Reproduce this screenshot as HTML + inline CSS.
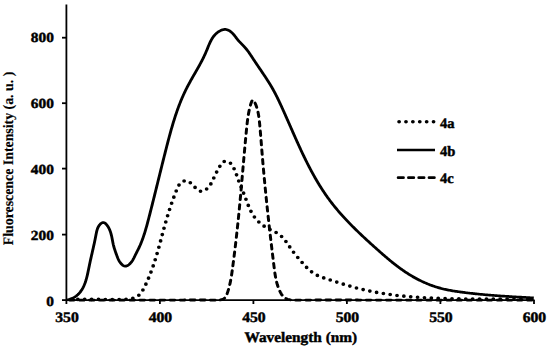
<!DOCTYPE html>
<html><head><meta charset="utf-8"><style>
html,body{margin:0;padding:0;background:#fff;width:550px;height:347px;overflow:hidden}
svg{display:block}
</style></head><body>
<svg width="550" height="347" viewBox="0 0 550 347">
<rect width="550" height="347" fill="#fff"/>
<g stroke="#000" stroke-width="1.8" fill="none">
<path d="M66.4 4.5 V300.1 H534.5"/>
<path d="M62 37.7 H66.4"/>
<path d="M62 103.2 H66.4"/>
<path d="M62 168.6 H66.4"/>
<path d="M62 234.6 H66.4"/>
<path d="M62 300.1 H66.4"/>
<path d="M66.4 300.1 V304"/>
<path d="M159.9 300.1 V304"/>
<path d="M253.4 300.1 V304"/>
<path d="M346.9 300.1 V304"/>
<path d="M440.4 300.1 V304"/>
<path d="M534.0 300.1 V304"/>
</g>
<g transform="scale(1.06 1)" fill="none" stroke="#000">
<path d="M62.63 300.10 L63.63 300.10 L64.64 300.10 L65.64 300.10 L66.64 300.10 L67.65 300.10 L68.65 300.10 L69.65 300.10 L70.65 300.10 L71.66 300.09 L72.66 300.09 L73.66 300.09 L74.66 300.09 L75.67 300.09 L76.67 300.09 L77.67 300.09 L78.67 300.09 L79.67 300.09 L80.68 300.09 L81.68 300.09 L82.68 300.09 L83.68 300.09 L84.68 300.09 L85.68 300.09 L86.68 300.09 L87.68 300.08 L88.69 300.08 L89.69 300.08 L90.69 300.08 L91.69 300.08 L92.69 300.08 L93.69 300.08 L94.69 300.08 L95.69 300.08 L96.69 300.08 L97.69 300.08 L98.69 300.08 L99.69 300.08 L100.69 300.07 L101.69 300.07 L102.69 300.07 L103.69 300.07 L104.69 300.07 L105.69 300.07 L106.69 300.07 L107.69 300.07 L108.69 300.07 L109.69 300.07 L110.69 300.07 L111.69 300.07 L112.69 300.06 L113.70 300.06 L114.70 300.06 L115.70 300.06 L116.70 300.06 L117.70 300.06 L118.70 300.06 L119.70 300.06 L120.70 300.06 L121.70 300.06 L122.70 300.06 L123.70 300.06 L124.70 300.06 L125.70 300.05 L126.70 300.05 L127.70 300.05 L128.71 300.05 L129.71 300.05 L130.71 300.05 L131.71 300.05 L132.71 300.05 L133.71 300.05 L134.71 300.05 L135.72 300.05 L136.72 300.05 L137.72 300.05 L138.72 300.05 L139.72 300.05 L140.73 300.05 L141.73 300.05 L142.73 300.04 L143.73 300.04 L144.74 300.04 L145.74 300.04 L146.74 300.04 L147.75 300.04 L148.75 300.04 L149.75 300.04 L150.76 300.04 L151.76 300.04 L152.77 300.04 L153.77 300.04 L154.77 300.04 L155.78 300.04 L156.78 300.04 L157.79 300.04 L158.79 300.04 L159.80 300.04 L160.80 300.04 L161.80 300.04 L162.81 300.04 L163.81 300.04 L164.81 300.04 L165.81 300.04 L166.82 300.04 L167.82 300.03 L168.82 300.03 L169.82 300.03 L170.81 300.03 L171.81 300.03 L172.81 300.03 L173.81 300.02 L174.80 300.02 L175.79 300.02 L176.79 300.02 L177.78 300.01 L178.77 300.01 L179.76 300.00 L180.75 300.00 L181.74 300.00 L182.73 299.99 L183.72 299.99 L184.71 299.99 L185.71 299.99 L186.70 299.99 L187.70 299.99 L188.70 299.99 L189.70 299.99 L190.70 300.00 L191.70 300.00 L192.71 300.01 L193.72 300.02 L194.74 300.03 L195.76 300.05 L196.78 300.06 L197.81 300.08 L198.85 300.10 L199.88 300.12 L200.93 300.15 L201.98 300.17 L203.03 300.20 L204.07 300.21 L205.11 300.20 L206.12 300.15 L207.10 300.06 L208.05 299.91 L208.96 299.70 L209.81 299.41 L210.61 299.04 L211.35 298.56 L212.01 297.98 L212.59 297.28 L213.09 296.47 L213.54 295.58 L213.93 294.62 L214.28 293.62 L214.61 292.62 L214.93 291.61 L215.23 290.60 L215.52 289.60 L215.79 288.60 L216.05 287.60 L216.29 286.60 L216.53 285.60 L216.75 284.61 L216.97 283.61 L217.17 282.62 L217.37 281.63 L217.55 280.64 L217.73 279.65 L217.90 278.66 L218.06 277.68 L218.22 276.69 L218.37 275.70 L218.51 274.72 L218.65 273.73 L218.79 272.75 L218.92 271.76 L219.05 270.78 L219.18 269.79 L219.30 268.80 L219.43 267.82 L219.55 266.83 L219.68 265.85 L219.80 264.86 L219.92 263.87 L220.04 262.88 L220.17 261.90 L220.29 260.91 L220.41 259.92 L220.52 258.93 L220.64 257.94 L220.76 256.95 L220.88 255.96 L220.99 254.97 L221.11 253.98 L221.23 252.99 L221.34 251.99 L221.45 251.00 L221.57 250.01 L221.68 249.02 L221.79 248.03 L221.91 247.03 L222.02 246.04 L222.13 245.05 L222.24 244.05 L222.35 243.06 L222.46 242.06 L222.56 241.07 L222.67 240.07 L222.78 239.08 L222.89 238.08 L222.99 237.09 L223.10 236.09 L223.20 235.10 L223.31 234.10 L223.41 233.11 L223.51 232.11 L223.62 231.11 L223.72 230.12 L223.82 229.12 L223.92 228.12 L224.02 227.12 L224.12 226.13 L224.22 225.13 L224.32 224.13 L224.42 223.13 L224.52 222.14 L224.62 221.14 L224.71 220.14 L224.81 219.14 L224.91 218.14 L225.00 217.15 L225.10 216.15 L225.19 215.15 L225.29 214.15 L225.38 213.15 L225.47 212.15 L225.57 211.15 L225.66 210.16 L225.75 209.16 L225.84 208.16 L225.93 207.16 L226.02 206.16 L226.11 205.16 L226.20 204.16 L226.29 203.16 L226.38 202.17 L226.47 201.17 L226.56 200.17 L226.65 199.17 L226.73 198.17 L226.82 197.17 L226.91 196.17 L226.99 195.17 L227.08 194.17 L227.16 193.18 L227.25 192.18 L227.33 191.18 L227.42 190.18 L227.50 189.18 L227.59 188.18 L227.67 187.18 L227.75 186.19 L227.84 185.19 L227.92 184.19 L228.00 183.19 L228.08 182.19 L228.17 181.20 L228.25 180.20 L228.33 179.20 L228.41 178.20 L228.50 177.20 L228.58 176.21 L228.66 175.21 L228.74 174.21 L228.82 173.21 L228.90 172.21 L228.99 171.22 L229.07 170.22 L229.15 169.22 L229.23 168.22 L229.31 167.23 L229.39 166.23 L229.47 165.23 L229.56 164.24 L229.64 163.24 L229.72 162.24 L229.80 161.25 L229.88 160.25 L229.97 159.25 L230.05 158.26 L230.13 157.26 L230.21 156.26 L230.30 155.27 L230.38 154.27 L230.46 153.27 L230.55 152.28 L230.63 151.28 L230.72 150.29 L230.80 149.29 L230.88 148.29 L230.97 147.30 L231.05 146.30 L231.14 145.31 L231.23 144.31 L231.31 143.32 L231.40 142.32 L231.49 141.33 L231.57 140.33 L231.66 139.34 L231.75 138.34 L231.84 137.35 L231.93 136.35 L232.02 135.36 L232.11 134.37 L232.20 133.37 L232.29 132.38 L232.38 131.38 L232.48 130.39 L232.57 129.40 L232.66 128.40 L232.76 127.41 L232.86 126.42 L232.95 125.42 L233.06 124.43 L233.16 123.44 L233.27 122.45 L233.38 121.45 L233.50 120.46 L233.62 119.47 L233.75 118.47 L233.88 117.48 L234.02 116.49 L234.17 115.49 L234.32 114.50 L234.49 113.51 L234.66 112.51 L234.84 111.52 L235.04 110.53 L235.24 109.53 L235.46 108.52 L235.70 107.48 L235.96 106.42 L236.25 105.32 L236.56 104.17 L236.91 103.01 L237.28 101.94 L237.67 101.03 L238.09 100.38 L238.52 100.08 L238.97 100.20 L239.42 100.71 L239.86 101.48 L240.29 102.35 L240.70 103.25 L241.07 104.15 L241.43 105.07 L241.76 106.00 L242.07 106.94 L242.36 107.88 L242.62 108.84 L242.87 109.80 L243.10 110.77 L243.32 111.75 L243.52 112.73 L243.70 113.72 L243.87 114.71 L244.03 115.71 L244.17 116.71 L244.31 117.72 L244.43 118.73 L244.55 119.74 L244.66 120.76 L244.76 121.77 L244.86 122.79 L244.95 123.81 L245.04 124.82 L245.12 125.84 L245.21 126.85 L245.29 127.86 L245.38 128.87 L245.46 129.88 L245.54 130.89 L245.62 131.90 L245.70 132.90 L245.78 133.91 L245.86 134.91 L245.94 135.92 L246.01 136.92 L246.09 137.92 L246.17 138.92 L246.24 139.92 L246.32 140.91 L246.40 141.91 L246.47 142.91 L246.55 143.90 L246.62 144.90 L246.70 145.89 L246.77 146.89 L246.85 147.88 L246.92 148.88 L247.00 149.87 L247.07 150.86 L247.15 151.86 L247.23 152.85 L247.30 153.84 L247.38 154.84 L247.46 155.83 L247.54 156.82 L247.61 157.82 L247.69 158.81 L247.77 159.81 L247.85 160.80 L247.93 161.79 L248.01 162.79 L248.09 163.78 L248.18 164.78 L248.26 165.77 L248.34 166.77 L248.42 167.76 L248.51 168.76 L248.59 169.75 L248.67 170.75 L248.76 171.74 L248.84 172.74 L248.93 173.74 L249.02 174.73 L249.10 175.73 L249.19 176.72 L249.28 177.72 L249.36 178.71 L249.45 179.71 L249.54 180.71 L249.63 181.70 L249.72 182.70 L249.81 183.70 L249.90 184.69 L249.99 185.69 L250.08 186.68 L250.17 187.68 L250.26 188.68 L250.36 189.67 L250.45 190.67 L250.54 191.67 L250.64 192.66 L250.73 193.66 L250.82 194.66 L250.92 195.65 L251.01 196.65 L251.11 197.65 L251.21 198.65 L251.30 199.64 L251.40 200.64 L251.49 201.64 L251.59 202.63 L251.69 203.63 L251.79 204.63 L251.89 205.62 L251.98 206.62 L252.08 207.62 L252.18 208.62 L252.28 209.61 L252.38 210.61 L252.48 211.61 L252.58 212.60 L252.69 213.60 L252.79 214.60 L252.89 215.60 L252.99 216.59 L253.09 217.59 L253.20 218.59 L253.30 219.58 L253.40 220.58 L253.51 221.58 L253.61 222.57 L253.72 223.57 L253.82 224.57 L253.93 225.56 L254.03 226.56 L254.14 227.56 L254.24 228.55 L254.35 229.55 L254.46 230.55 L254.56 231.54 L254.67 232.54 L254.78 233.53 L254.89 234.53 L255.00 235.53 L255.11 236.52 L255.21 237.52 L255.32 238.52 L255.43 239.51 L255.54 240.51 L255.65 241.50 L255.76 242.50 L255.87 243.49 L255.98 244.49 L256.10 245.48 L256.21 246.48 L256.32 247.47 L256.43 248.47 L256.54 249.46 L256.66 250.46 L256.77 251.45 L256.88 252.45 L257.00 253.44 L257.11 254.44 L257.22 255.43 L257.34 256.42 L257.45 257.42 L257.57 258.41 L257.68 259.41 L257.80 260.40 L257.91 261.39 L258.03 262.39 L258.14 263.38 L258.26 264.37 L258.37 265.37 L258.49 266.36 L258.61 267.35 L258.73 268.34 L258.84 269.33 L258.97 270.33 L259.09 271.32 L259.22 272.31 L259.36 273.30 L259.50 274.28 L259.65 275.27 L259.80 276.26 L259.97 277.24 L260.15 278.22 L260.34 279.20 L260.54 280.18 L260.75 281.15 L260.98 282.13 L261.22 283.10 L261.48 284.07 L261.75 285.03 L262.05 286.00 L262.36 286.96 L262.69 287.91 L263.04 288.87 L263.42 289.82 L263.81 290.76 L264.24 291.71 L264.68 292.64 L265.16 293.56 L265.67 294.44 L266.22 295.29 L266.81 296.08 L267.45 296.81 L268.14 297.46 L268.89 298.03 L269.68 298.51 L270.53 298.92 L271.42 299.25 L272.35 299.52 L273.32 299.73 L274.31 299.88 L275.32 300.00 L276.35 300.07 L277.40 300.11 L278.45 300.13 L279.51 300.13 L280.56 300.12 L281.61 300.10 L282.65 300.09 L283.67 300.07 L284.69 300.06 L285.69 300.05 L286.69 300.05 L287.69 300.04 L288.68 300.04 L289.67 300.03 L290.66 300.03 L291.65 300.03 L292.64 300.03 L293.63 300.02 L294.62 300.02 L295.62 300.02 L296.61 300.02 L297.60 300.01 L298.60 300.01 L299.59 300.01 L300.59 300.01 L301.58 300.01 L302.58 300.01 L303.58 300.01 L304.57 300.01 L305.57 300.01 L306.57 300.01 L307.57 300.01 L308.57 300.00 L309.57 300.00 L310.57 300.00 L311.57 300.00 L312.57 300.01 L313.57 300.01 L314.57 300.01 L315.57 300.01 L316.57 300.01 L317.57 300.01 L318.57 300.01 L319.57 300.01 L320.58 300.01 L321.58 300.01 L322.58 300.01 L323.58 300.01 L324.58 300.01 L325.59 300.01 L326.59 300.01 L327.59 300.02 L328.59 300.02 L329.60 300.02 L330.60 300.02 L331.60 300.02 L332.60 300.02 L333.61 300.02 L334.61 300.02 L335.61 300.02 L336.61 300.02 L337.62 300.02 L338.62 300.03 L339.62 300.03 L340.62 300.03 L341.63 300.03 L342.63 300.03 L343.63 300.03 L344.63 300.03 L345.63 300.03 L346.64 300.03 L347.64 300.03 L348.64 300.03 L349.64 300.03 L350.64 300.03 L351.65 300.03 L352.65 300.04 L353.65 300.04 L354.65 300.04 L355.65 300.04 L356.66 300.04 L357.66 300.04 L358.66 300.04 L359.66 300.04 L360.66 300.04 L361.66 300.04 L362.67 300.04 L363.67 300.04 L364.67 300.04 L365.67 300.04 L366.67 300.04 L367.67 300.04 L368.67 300.05 L369.68 300.05 L370.68 300.05 L371.68 300.05 L372.68 300.05 L373.68 300.05 L374.68 300.05 L375.68 300.05 L376.69 300.05 L377.69 300.05 L378.69 300.05 L379.69 300.05 L380.69 300.05 L381.69 300.05 L382.69 300.05 L383.69 300.05 L384.70 300.05 L385.70 300.05 L386.70 300.05 L387.70 300.05 L388.70 300.05 L389.70 300.05 L390.70 300.05 L391.70 300.06 L392.70 300.06 L393.71 300.06 L394.71 300.06 L395.71 300.06 L396.71 300.06 L397.71 300.06 L398.71 300.06 L399.71 300.06 L400.71 300.06 L401.71 300.06 L402.71 300.06 L403.72 300.06 L404.72 300.06 L405.72 300.06 L406.72 300.06 L407.72 300.06 L408.72 300.06 L409.72 300.06 L410.72 300.06 L411.72 300.06 L412.72 300.06 L413.72 300.06 L414.73 300.06 L415.73 300.06 L416.73 300.06 L417.73 300.06 L418.73 300.06 L419.73 300.06 L420.73 300.06 L421.73 300.07 L422.73 300.07 L423.73 300.07 L424.73 300.07 L425.74 300.07 L426.74 300.07 L427.74 300.07 L428.74 300.07 L429.74 300.07 L430.74 300.07 L431.74 300.07 L432.74 300.07 L433.74 300.07 L434.74 300.07 L435.74 300.07 L436.75 300.07 L437.75 300.07 L438.75 300.07 L439.75 300.07 L440.75 300.07 L441.75 300.07 L442.75 300.07 L443.75 300.07 L444.75 300.07 L445.75 300.07 L446.76 300.07 L447.76 300.07 L448.76 300.07 L449.76 300.07 L450.76 300.07 L451.76 300.08 L452.76 300.08 L453.76 300.08 L454.76 300.08 L455.76 300.08 L456.77 300.08 L457.77 300.08 L458.77 300.08 L459.77 300.08 L460.77 300.08 L461.77 300.08 L462.77 300.08 L463.77 300.08 L464.78 300.08 L465.78 300.08 L466.78 300.08 L467.78 300.08 L468.78 300.08 L469.78 300.08 L470.78 300.08 L471.79 300.08 L472.79 300.08 L473.79 300.08 L474.79 300.09 L475.79 300.09 L476.79 300.09 L477.79 300.09 L478.80 300.09 L479.80 300.09 L480.80 300.09 L481.80 300.09 L482.80 300.09 L483.80 300.09 L484.81 300.09 L485.81 300.09 L486.81 300.09 L487.81 300.09 L488.81 300.09 L489.81 300.09 L490.82 300.10 L491.82 300.10 L492.82 300.10 L493.82 300.10 L494.82 300.10 L495.83 300.10 L496.83 300.10 L497.83 300.10 L498.83 300.10 L499.83 300.10 L500.84 300.10 L501.84 300.10 L502.84 300.10" stroke-width="2.8" stroke-linecap="round" stroke-dasharray="4.5 5.0" stroke-dashoffset="6.71"/>
<path d="M62.53 299.53 L63.58 299.51 L64.63 299.50 L65.66 299.49 L66.70 299.48 L67.72 299.47 L68.75 299.46 L69.76 299.45 L70.78 299.44 L71.79 299.44 L72.80 299.43 L73.80 299.42 L74.80 299.42 L75.80 299.41 L76.79 299.41 L77.79 299.41 L78.78 299.41 L79.76 299.40 L80.75 299.40 L81.73 299.40 L82.72 299.40 L83.70 299.40 L84.68 299.40 L85.66 299.40 L86.64 299.40 L87.62 299.41 L88.60 299.41 L89.58 299.41 L90.56 299.41 L91.54 299.41 L92.52 299.41 L93.50 299.42 L94.49 299.42 L95.47 299.42 L96.46 299.42 L97.45 299.43 L98.44 299.43 L99.43 299.43 L100.43 299.43 L101.43 299.44 L102.43 299.44 L103.44 299.44 L104.45 299.44 L105.46 299.44 L106.48 299.44 L107.50 299.44 L108.53 299.44 L109.56 299.44 L110.59 299.44 L111.63 299.44 L112.68 299.44 L113.73 299.43 L114.79 299.43 L115.84 299.41 L116.89 299.38 L117.94 299.34 L118.98 299.29 L120.01 299.21 L121.02 299.11 L122.03 298.98 L123.01 298.82 L123.98 298.63 L124.92 298.40 L125.84 298.13 L126.73 297.82 L127.59 297.46 L128.42 297.05 L129.21 296.59 L129.97 296.07 L130.69 295.50 L131.36 294.86 L132.01 294.18 L132.61 293.44 L133.19 292.67 L133.74 291.85 L134.26 291.01 L134.76 290.13 L135.24 289.23 L135.71 288.32 L136.16 287.39 L136.60 286.45 L137.03 285.51 L137.45 284.57 L137.87 283.63 L138.27 282.68 L138.68 281.74 L139.07 280.80 L139.46 279.85 L139.84 278.91 L140.22 277.96 L140.59 277.02 L140.95 276.07 L141.31 275.12 L141.66 274.17 L142.01 273.22 L142.35 272.28 L142.69 271.33 L143.02 270.38 L143.35 269.42 L143.67 268.47 L143.99 267.52 L144.30 266.57 L144.61 265.62 L144.91 264.66 L145.21 263.71 L145.51 262.75 L145.80 261.80 L146.09 260.84 L146.37 259.89 L146.65 258.93 L146.93 257.97 L147.21 257.02 L147.48 256.06 L147.75 255.10 L148.02 254.14 L148.28 253.18 L148.54 252.22 L148.80 251.26 L149.06 250.30 L149.32 249.34 L149.57 248.38 L149.82 247.42 L150.08 246.46 L150.32 245.50 L150.57 244.54 L150.82 243.57 L151.07 242.61 L151.31 241.65 L151.56 240.68 L151.80 239.72 L152.05 238.76 L152.29 237.79 L152.54 236.83 L152.78 235.86 L153.02 234.90 L153.27 233.93 L153.51 232.97 L153.76 232.00 L154.01 231.04 L154.26 230.07 L154.50 229.10 L154.75 228.14 L155.01 227.17 L155.26 226.21 L155.51 225.24 L155.77 224.27 L156.03 223.30 L156.29 222.34 L156.55 221.37 L156.81 220.40 L157.08 219.44 L157.35 218.47 L157.62 217.51 L157.89 216.54 L158.17 215.57 L158.45 214.61 L158.73 213.65 L159.01 212.68 L159.29 211.72 L159.58 210.76 L159.87 209.79 L160.17 208.83 L160.46 207.87 L160.76 206.91 L161.06 205.95 L161.37 205.00 L161.67 204.04 L161.98 203.09 L162.30 202.13 L162.62 201.18 L162.94 200.23 L163.26 199.28 L163.59 198.33 L163.92 197.38 L164.25 196.44 L164.59 195.49 L164.93 194.55 L165.27 193.61 L165.62 192.67 L165.98 191.73 L166.33 190.80 L166.69 189.86 L167.06 188.93 L167.43 188.01 L167.82 187.09 L168.25 186.19 L168.73 185.31 L169.28 184.46 L169.91 183.65 L170.64 182.89 L171.44 182.20 L172.29 181.60 L173.17 181.12 L174.08 180.79 L174.97 180.62 L175.85 180.65 L176.70 180.85 L177.52 181.22 L178.33 181.71 L179.12 182.33 L179.91 183.02 L180.68 183.79 L181.45 184.60 L182.22 185.44 L182.99 186.29 L183.76 187.13 L184.53 187.95 L185.30 188.72 L186.07 189.43 L186.85 190.05 L187.63 190.59 L188.42 191.00 L189.21 191.29 L190.02 191.42 L190.83 191.39 L191.64 191.19 L192.46 190.86 L193.27 190.39 L194.06 189.81 L194.85 189.14 L195.61 188.38 L196.34 187.55 L197.05 186.67 L197.72 185.76 L198.34 184.82 L198.92 183.88 L199.44 182.95 L199.91 182.04 L200.34 181.15 L200.74 180.27 L201.11 179.41 L201.47 178.54 L201.83 177.68 L202.20 176.81 L202.59 175.93 L202.99 175.05 L203.39 174.16 L203.82 173.27 L204.25 172.37 L204.70 171.46 L205.16 170.55 L205.64 169.63 L206.12 168.70 L206.63 167.77 L207.14 166.84 L207.67 165.89 L208.22 164.96 L208.79 164.06 L209.40 163.23 L210.05 162.50 L210.76 161.91 L211.53 161.49 L212.38 161.26 L213.27 161.23 L214.19 161.38 L215.10 161.69 L215.99 162.13 L216.81 162.70 L217.56 163.38 L218.23 164.14 L218.84 164.97 L219.39 165.86 L219.89 166.79 L220.35 167.74 L220.79 168.69 L221.20 169.65 L221.60 170.60 L221.97 171.55 L222.33 172.50 L222.67 173.45 L223.01 174.40 L223.33 175.35 L223.65 176.29 L223.96 177.23 L224.28 178.17 L224.59 179.11 L224.91 180.05 L225.23 180.98 L225.55 181.91 L225.89 182.84 L226.22 183.77 L226.56 184.69 L226.91 185.62 L227.26 186.54 L227.61 187.47 L227.96 188.39 L228.31 189.32 L228.67 190.24 L229.02 191.17 L229.38 192.10 L229.73 193.03 L230.09 193.97 L230.44 194.90 L230.79 195.84 L231.14 196.79 L231.48 197.74 L231.82 198.69 L232.16 199.64 L232.50 200.60 L232.84 201.56 L233.18 202.52 L233.53 203.48 L233.88 204.43 L234.24 205.39 L234.60 206.33 L234.97 207.28 L235.35 208.21 L235.75 209.14 L236.15 210.06 L236.57 210.97 L237.01 211.87 L237.46 212.76 L237.93 213.64 L238.42 214.50 L238.93 215.34 L239.47 216.17 L240.02 216.99 L240.60 217.79 L241.19 218.57 L241.81 219.33 L242.44 220.08 L243.10 220.81 L243.77 221.53 L244.47 222.22 L245.18 222.90 L245.91 223.56 L246.66 224.20 L247.42 224.83 L248.20 225.43 L249.00 226.02 L249.82 226.59 L250.65 227.14 L251.49 227.66 L252.35 228.17 L253.23 228.67 L254.11 229.14 L255.00 229.61 L255.90 230.07 L256.80 230.52 L257.70 230.98 L258.59 231.45 L259.47 231.92 L260.33 232.42 L261.19 232.93 L262.02 233.46 L262.83 234.03 L263.62 234.62 L264.38 235.25 L265.11 235.92 L265.82 236.61 L266.50 237.34 L267.16 238.09 L267.80 238.86 L268.43 239.66 L269.04 240.47 L269.63 241.30 L270.21 242.14 L270.79 242.99 L271.35 243.85 L271.91 244.71 L272.46 245.57 L273.01 246.44 L273.56 247.30 L274.10 248.15 L274.66 249.00 L275.21 249.83 L275.77 250.65 L276.34 251.46 L276.92 252.26 L277.50 253.04 L278.08 253.82 L278.68 254.59 L279.27 255.36 L279.88 256.13 L280.48 256.89 L281.09 257.65 L281.71 258.42 L282.33 259.18 L282.96 259.96 L283.59 260.74 L284.22 261.52 L284.86 262.31 L285.51 263.10 L286.16 263.88 L286.82 264.67 L287.49 265.45 L288.16 266.22 L288.85 266.98 L289.55 267.73 L290.25 268.47 L290.97 269.20 L291.70 269.90 L292.44 270.59 L293.20 271.25 L293.97 271.89 L294.75 272.51 L295.55 273.10 L296.37 273.66 L297.20 274.19 L298.05 274.68 L298.92 275.15 L299.80 275.59 L300.69 276.01 L301.59 276.41 L302.51 276.79 L303.43 277.15 L304.36 277.50 L305.29 277.84 L306.23 278.17 L307.17 278.50 L308.12 278.82 L309.06 279.15 L310.01 279.47 L310.95 279.80 L311.90 280.12 L312.85 280.45 L313.79 280.77 L314.74 281.10 L315.69 281.42 L316.64 281.74 L317.59 282.06 L318.54 282.38 L319.49 282.70 L320.44 283.02 L321.39 283.34 L322.34 283.65 L323.30 283.96 L324.25 284.27 L325.20 284.58 L326.16 284.89 L327.12 285.19 L328.07 285.49 L329.03 285.79 L329.99 286.09 L330.95 286.38 L331.91 286.67 L332.87 286.95 L333.83 287.24 L334.79 287.51 L335.75 287.79 L336.72 288.06 L337.68 288.33 L338.65 288.59 L339.61 288.85 L340.58 289.10 L341.55 289.35 L342.52 289.59 L343.49 289.83 L344.46 290.07 L345.43 290.30 L346.40 290.53 L347.38 290.75 L348.35 290.97 L349.33 291.19 L350.30 291.40 L351.28 291.61 L352.26 291.81 L353.24 292.01 L354.21 292.20 L355.19 292.40 L356.17 292.58 L357.16 292.77 L358.14 292.95 L359.12 293.12 L360.10 293.30 L361.09 293.47 L362.07 293.63 L363.06 293.79 L364.04 293.95 L365.03 294.11 L366.01 294.26 L367.00 294.41 L367.99 294.55 L368.98 294.69 L369.97 294.83 L370.96 294.97 L371.95 295.10 L372.94 295.23 L373.93 295.35 L374.92 295.48 L375.91 295.60 L376.90 295.71 L377.90 295.83 L378.89 295.94 L379.88 296.05 L380.88 296.15 L381.87 296.26 L382.87 296.36 L383.86 296.46 L384.86 296.55 L385.85 296.64 L386.85 296.73 L387.84 296.82 L388.84 296.91 L389.84 296.99 L390.84 297.07 L391.83 297.15 L392.83 297.22 L393.83 297.30 L394.83 297.37 L395.83 297.44 L396.82 297.50 L397.82 297.57 L398.82 297.63 L399.82 297.69 L400.82 297.75 L401.82 297.81 L402.82 297.86 L403.82 297.92 L404.82 297.97 L405.82 298.02 L406.82 298.07 L407.82 298.11 L408.82 298.16 L409.82 298.20 L410.82 298.25 L411.82 298.29 L412.82 298.33 L413.82 298.36 L414.82 298.40 L415.82 298.43 L416.82 298.47 L417.82 298.50 L418.82 298.53 L419.82 298.56 L420.82 298.59 L421.82 298.62 L422.82 298.64 L423.82 298.67 L424.82 298.69 L425.82 298.71 L426.82 298.73 L427.82 298.76 L428.82 298.77 L429.82 298.79 L430.82 298.81 L431.82 298.83 L432.82 298.84 L433.82 298.86 L434.82 298.87 L435.82 298.88 L436.82 298.90 L437.82 298.91 L438.82 298.92 L439.82 298.93 L440.82 298.94 L441.82 298.95 L442.82 298.95 L443.82 298.96 L444.82 298.97 L445.82 298.97 L446.82 298.98 L447.82 298.98 L448.82 298.99 L449.82 298.99 L450.82 299.00 L451.82 299.00 L452.82 299.00 L453.82 299.01 L454.82 299.01 L455.82 299.01 L456.82 299.01 L457.82 299.01 L458.82 299.02 L459.82 299.02 L460.82 299.02 L461.82 299.02 L462.82 299.02 L463.82 299.02 L464.82 299.02 L465.82 299.02 L466.82 299.02 L467.82 299.02 L468.83 299.02 L469.83 299.02 L470.83 299.02 L471.83 299.03 L472.83 299.03 L473.83 299.03 L474.83 299.03 L475.83 299.03 L476.83 299.03 L477.83 299.04 L478.83 299.04 L479.83 299.04 L480.83 299.05 L481.83 299.05 L482.83 299.05 L483.83 299.06 L484.83 299.07 L485.83 299.07 L486.83 299.08 L487.83 299.08 L488.83 299.09 L489.83 299.10 L490.83 299.11 L491.83 299.12 L492.83 299.13 L493.83 299.14 L494.83 299.15 L495.83 299.17 L496.83 299.18 L497.83 299.19 L498.83 299.21 L499.83 299.23 L500.83 299.24 L501.83 299.26 L502.83 299.28" stroke-width="3.6" stroke-linecap="round" stroke-dasharray="0 6.5" stroke-dashoffset="2.12"/>
<path d="M62.53 299.98 L63.65 299.77 L64.73 299.50 L65.77 299.20 L66.76 298.86 L67.71 298.47 L68.63 298.04 L69.50 297.58 L70.34 297.08 L71.14 296.54 L71.90 295.97 L72.63 295.37 L73.33 294.74 L73.99 294.07 L74.62 293.37 L75.23 292.65 L75.80 291.90 L76.35 291.12 L76.86 290.32 L77.36 289.50 L77.82 288.65 L78.27 287.78 L78.69 286.90 L79.09 285.99 L79.47 285.07 L79.83 284.13 L80.17 283.18 L80.49 282.21 L80.80 281.24 L81.09 280.25 L81.37 279.25 L81.64 278.24 L81.89 277.23 L82.13 276.21 L82.36 275.19 L82.59 274.16 L82.81 273.13 L83.02 272.10 L83.22 271.07 L83.42 270.04 L83.62 269.02 L83.81 268.00 L84.01 266.98 L84.20 265.97 L84.39 264.97 L84.59 263.98 L84.79 262.99 L84.99 262.01 L85.18 261.04 L85.38 260.07 L85.59 259.11 L85.79 258.15 L85.99 257.20 L86.19 256.25 L86.39 255.30 L86.60 254.36 L86.80 253.41 L87.00 252.47 L87.21 251.53 L87.41 250.58 L87.61 249.64 L87.81 248.69 L88.01 247.75 L88.21 246.80 L88.41 245.84 L88.61 244.89 L88.81 243.93 L89.01 242.96 L89.20 241.99 L89.39 241.01 L89.59 240.03 L89.78 239.04 L89.97 238.04 L90.15 237.03 L90.34 236.02 L90.52 234.99 L90.70 233.96 L90.90 232.92 L91.11 231.88 L91.34 230.85 L91.62 229.83 L91.93 228.83 L92.30 227.85 L92.74 226.90 L93.24 225.98 L93.82 225.09 L94.48 224.26 L95.21 223.54 L95.97 222.97 L96.76 222.61 L97.54 222.51 L98.31 222.70 L99.06 223.13 L99.78 223.76 L100.46 224.53 L101.09 225.39 L101.68 226.28 L102.21 227.19 L102.69 228.11 L103.13 229.04 L103.52 229.98 L103.88 230.94 L104.20 231.90 L104.49 232.87 L104.76 233.85 L105.00 234.83 L105.22 235.81 L105.43 236.80 L105.62 237.80 L105.80 238.79 L105.98 239.78 L106.16 240.77 L106.34 241.76 L106.52 242.75 L106.72 243.73 L106.92 244.71 L107.15 245.67 L107.39 246.64 L107.64 247.59 L107.91 248.54 L108.19 249.49 L108.49 250.44 L108.79 251.38 L109.10 252.32 L109.42 253.26 L109.74 254.21 L110.07 255.15 L110.39 256.10 L110.73 257.05 L111.09 258.00 L111.48 258.94 L111.90 259.88 L112.37 260.80 L112.89 261.72 L113.47 262.63 L114.11 263.51 L114.82 264.32 L115.57 265.03 L116.37 265.60 L117.20 266.00 L118.06 266.17 L118.93 266.10 L119.81 265.82 L120.68 265.34 L121.51 264.73 L122.30 264.02 L123.04 263.24 L123.70 262.43 L124.31 261.59 L124.86 260.73 L125.37 259.85 L125.84 258.95 L126.29 258.05 L126.72 257.13 L127.14 256.22 L127.56 255.30 L127.98 254.39 L128.41 253.48 L128.84 252.58 L129.27 251.68 L129.70 250.78 L130.13 249.87 L130.55 248.97 L130.97 248.06 L131.37 247.15 L131.77 246.24 L132.16 245.32 L132.53 244.39 L132.90 243.47 L133.26 242.54 L133.61 241.60 L133.95 240.66 L134.28 239.72 L134.61 238.78 L134.93 237.83 L135.24 236.88 L135.55 235.93 L135.85 234.97 L136.14 234.01 L136.43 233.05 L136.71 232.09 L136.99 231.13 L137.26 230.16 L137.53 229.19 L137.79 228.22 L138.05 227.25 L138.31 226.28 L138.56 225.31 L138.81 224.34 L139.06 223.36 L139.30 222.39 L139.55 221.41 L139.79 220.44 L140.03 219.46 L140.27 218.48 L140.51 217.51 L140.74 216.53 L140.98 215.56 L141.22 214.58 L141.45 213.61 L141.69 212.64 L141.92 211.66 L142.16 210.69 L142.39 209.71 L142.62 208.74 L142.86 207.77 L143.09 206.79 L143.32 205.82 L143.55 204.85 L143.78 203.88 L144.01 202.90 L144.24 201.93 L144.47 200.96 L144.70 199.99 L144.93 199.01 L145.16 198.04 L145.39 197.07 L145.62 196.10 L145.84 195.13 L146.07 194.16 L146.30 193.18 L146.53 192.21 L146.75 191.24 L146.98 190.27 L147.21 189.30 L147.43 188.33 L147.66 187.36 L147.88 186.39 L148.11 185.42 L148.34 184.44 L148.56 183.47 L148.79 182.50 L149.01 181.53 L149.24 180.56 L149.47 179.59 L149.69 178.62 L149.92 177.65 L150.14 176.68 L150.37 175.70 L150.60 174.73 L150.82 173.76 L151.05 172.79 L151.28 171.82 L151.50 170.85 L151.73 169.88 L151.96 168.91 L152.18 167.93 L152.41 166.96 L152.64 165.99 L152.87 165.02 L153.09 164.05 L153.32 163.07 L153.55 162.10 L153.78 161.13 L154.01 160.16 L154.24 159.18 L154.47 158.21 L154.70 157.24 L154.93 156.26 L155.16 155.29 L155.40 154.32 L155.63 153.34 L155.86 152.37 L156.09 151.39 L156.33 150.42 L156.56 149.45 L156.80 148.47 L157.03 147.50 L157.27 146.52 L157.50 145.54 L157.74 144.57 L157.98 143.59 L158.22 142.62 L158.46 141.64 L158.70 140.66 L158.94 139.69 L159.19 138.71 L159.43 137.74 L159.68 136.76 L159.92 135.79 L160.17 134.81 L160.42 133.84 L160.68 132.86 L160.93 131.89 L161.19 130.92 L161.44 129.94 L161.70 128.97 L161.97 128.00 L162.23 127.03 L162.50 126.06 L162.77 125.09 L163.04 124.13 L163.31 123.16 L163.59 122.19 L163.87 121.23 L164.15 120.26 L164.43 119.30 L164.72 118.34 L165.01 117.38 L165.30 116.42 L165.60 115.46 L165.90 114.50 L166.20 113.55 L166.51 112.60 L166.82 111.64 L167.14 110.69 L167.45 109.74 L167.78 108.80 L168.10 107.85 L168.43 106.91 L168.76 105.97 L169.10 105.03 L169.44 104.09 L169.79 103.15 L170.14 102.22 L170.49 101.28 L170.85 100.35 L171.21 99.43 L171.58 98.50 L171.95 97.58 L172.33 96.66 L172.71 95.74 L173.10 94.82 L173.49 93.91 L173.89 92.99 L174.29 92.09 L174.70 91.18 L175.11 90.27 L175.53 89.37 L175.96 88.48 L176.39 87.58 L176.82 86.69 L177.26 85.80 L177.71 84.91 L178.16 84.02 L178.61 83.14 L179.07 82.26 L179.53 81.37 L179.99 80.49 L180.46 79.62 L180.93 78.74 L181.40 77.86 L181.87 76.98 L182.35 76.11 L182.82 75.23 L183.30 74.35 L183.78 73.48 L184.25 72.60 L184.73 71.72 L185.20 70.84 L185.68 69.96 L186.15 69.08 L186.62 68.20 L187.09 67.31 L187.56 66.42 L188.02 65.54 L188.49 64.64 L188.94 63.75 L189.40 62.85 L189.85 61.95 L190.30 61.05 L190.74 60.14 L191.17 59.24 L191.61 58.32 L192.03 57.40 L192.45 56.48 L192.86 55.56 L193.27 54.63 L193.67 53.69 L194.06 52.75 L194.45 51.81 L194.83 50.86 L195.20 49.90 L195.56 48.94 L195.93 47.99 L196.29 47.03 L196.66 46.08 L197.03 45.13 L197.41 44.19 L197.80 43.26 L198.20 42.34 L198.62 41.43 L199.05 40.54 L199.50 39.66 L199.97 38.80 L200.46 37.96 L200.98 37.14 L201.53 36.35 L202.11 35.58 L202.72 34.84 L203.36 34.12 L204.05 33.44 L204.77 32.79 L205.53 32.18 L206.34 31.60 L207.19 31.06 L208.09 30.56 L209.02 30.13 L209.99 29.78 L210.98 29.54 L211.97 29.43 L212.97 29.47 L213.95 29.67 L214.91 30.00 L215.83 30.44 L216.70 30.96 L217.51 31.54 L218.26 32.18 L218.98 32.86 L219.66 33.59 L220.30 34.35 L220.93 35.14 L221.53 35.95 L222.13 36.77 L222.72 37.60 L223.31 38.43 L223.92 39.25 L224.54 40.05 L225.18 40.83 L225.84 41.60 L226.52 42.35 L227.20 43.09 L227.89 43.83 L228.57 44.56 L229.25 45.30 L229.92 46.04 L230.57 46.80 L231.20 47.56 L231.82 48.34 L232.42 49.13 L233.01 49.92 L233.59 50.73 L234.16 51.54 L234.72 52.36 L235.27 53.19 L235.81 54.02 L236.34 54.86 L236.88 55.70 L237.40 56.55 L237.93 57.40 L238.45 58.24 L238.98 59.09 L239.50 59.95 L240.03 60.79 L240.57 61.64 L241.10 62.49 L241.64 63.34 L242.18 64.19 L242.72 65.03 L243.26 65.88 L243.80 66.73 L244.34 67.57 L244.89 68.42 L245.43 69.27 L245.98 70.11 L246.52 70.96 L247.06 71.81 L247.60 72.66 L248.15 73.51 L248.68 74.36 L249.22 75.21 L249.76 76.06 L250.29 76.91 L250.82 77.76 L251.35 78.62 L251.87 79.48 L252.39 80.33 L252.91 81.19 L253.43 82.05 L253.93 82.92 L254.44 83.78 L254.94 84.65 L255.43 85.52 L255.92 86.39 L256.40 87.26 L256.88 88.14 L257.35 89.01 L257.81 89.89 L258.27 90.78 L258.73 91.66 L259.17 92.55 L259.61 93.44 L260.05 94.33 L260.48 95.22 L260.91 96.12 L261.33 97.02 L261.75 97.92 L262.17 98.82 L262.58 99.72 L262.99 100.63 L263.39 101.53 L263.79 102.44 L264.19 103.35 L264.59 104.26 L264.99 105.17 L265.38 106.08 L265.78 107.00 L266.17 107.91 L266.56 108.83 L266.95 109.74 L267.34 110.66 L267.73 111.58 L268.11 112.50 L268.50 113.42 L268.89 114.34 L269.27 115.26 L269.66 116.18 L270.05 117.11 L270.43 118.03 L270.81 118.95 L271.20 119.88 L271.58 120.80 L271.97 121.73 L272.35 122.65 L272.73 123.58 L273.12 124.51 L273.50 125.43 L273.88 126.36 L274.27 127.29 L274.65 128.21 L275.04 129.14 L275.42 130.07 L275.81 131.00 L276.19 131.93 L276.58 132.85 L276.96 133.78 L277.35 134.71 L277.74 135.64 L278.13 136.56 L278.51 137.49 L278.90 138.42 L279.29 139.34 L279.68 140.27 L280.08 141.20 L280.47 142.12 L280.86 143.05 L281.26 143.97 L281.66 144.89 L282.05 145.82 L282.45 146.74 L282.85 147.66 L283.25 148.58 L283.65 149.50 L284.06 150.43 L284.46 151.34 L284.87 152.26 L285.28 153.18 L285.69 154.10 L286.10 155.01 L286.52 155.93 L286.93 156.84 L287.35 157.75 L287.77 158.67 L288.19 159.58 L288.61 160.49 L289.04 161.39 L289.46 162.30 L289.89 163.21 L290.33 164.11 L290.76 165.02 L291.20 165.92 L291.63 166.82 L292.08 167.72 L292.52 168.61 L292.96 169.51 L293.41 170.40 L293.86 171.30 L294.32 172.19 L294.78 173.08 L295.23 173.96 L295.70 174.85 L296.16 175.73 L296.63 176.62 L297.10 177.50 L297.57 178.37 L298.05 179.25 L298.53 180.13 L299.02 181.00 L299.50 181.87 L299.99 182.74 L300.49 183.60 L300.98 184.47 L301.48 185.33 L301.99 186.19 L302.49 187.04 L303.00 187.90 L303.52 188.75 L304.04 189.60 L304.56 190.45 L305.08 191.29 L305.61 192.14 L306.15 192.98 L306.68 193.81 L307.23 194.65 L307.77 195.48 L308.32 196.31 L308.88 197.14 L309.43 197.96 L310.00 198.78 L310.56 199.60 L311.13 200.41 L311.71 201.23 L312.29 202.03 L312.87 202.84 L313.46 203.64 L314.06 204.44 L314.65 205.24 L315.25 206.04 L315.86 206.83 L316.47 207.62 L317.08 208.41 L317.70 209.19 L318.32 209.97 L318.94 210.75 L319.57 211.53 L320.20 212.30 L320.84 213.07 L321.48 213.84 L322.12 214.61 L322.76 215.37 L323.41 216.13 L324.06 216.89 L324.72 217.65 L325.38 218.41 L326.04 219.16 L326.70 219.91 L327.37 220.66 L328.04 221.40 L328.71 222.15 L329.38 222.89 L330.06 223.63 L330.74 224.37 L331.42 225.10 L332.11 225.84 L332.79 226.57 L333.48 227.30 L334.18 228.03 L334.87 228.76 L335.56 229.48 L336.26 230.20 L336.96 230.93 L337.66 231.65 L338.37 232.36 L339.07 233.08 L339.78 233.80 L340.49 234.51 L341.20 235.22 L341.91 235.93 L342.62 236.64 L343.34 237.35 L344.05 238.06 L344.77 238.76 L345.49 239.47 L346.21 240.17 L346.93 240.87 L347.65 241.57 L348.37 242.27 L349.09 242.97 L349.82 243.66 L350.54 244.36 L351.27 245.05 L351.99 245.75 L352.72 246.44 L353.45 247.13 L354.17 247.82 L354.90 248.51 L355.63 249.20 L356.36 249.89 L357.08 250.57 L357.81 251.26 L358.54 251.94 L359.27 252.63 L360.00 253.31 L360.74 253.99 L361.47 254.66 L362.21 255.34 L362.94 256.01 L363.68 256.68 L364.42 257.35 L365.16 258.02 L365.90 258.68 L366.65 259.34 L367.40 260.00 L368.15 260.66 L368.90 261.31 L369.65 261.96 L370.41 262.60 L371.17 263.24 L371.93 263.88 L372.70 264.52 L373.46 265.15 L374.23 265.77 L375.01 266.39 L375.79 267.01 L376.57 267.62 L377.35 268.23 L378.14 268.84 L378.93 269.44 L379.73 270.03 L380.53 270.62 L381.33 271.20 L382.14 271.78 L382.96 272.35 L383.77 272.92 L384.60 273.48 L385.42 274.04 L386.25 274.59 L387.09 275.13 L387.93 275.67 L388.78 276.20 L389.63 276.73 L390.49 277.25 L391.35 277.76 L392.22 278.26 L393.09 278.76 L393.97 279.25 L394.86 279.73 L395.75 280.21 L396.64 280.68 L397.54 281.14 L398.44 281.59 L399.35 282.03 L400.26 282.47 L401.18 282.89 L402.10 283.31 L403.02 283.72 L403.95 284.12 L404.88 284.51 L405.81 284.90 L406.75 285.27 L407.69 285.63 L408.63 285.99 L409.58 286.33 L410.53 286.66 L411.48 286.99 L412.43 287.30 L413.39 287.60 L414.35 287.89 L415.31 288.17 L416.27 288.44 L417.23 288.70 L418.19 288.95 L419.16 289.19 L420.13 289.42 L421.10 289.64 L422.07 289.85 L423.04 290.06 L424.01 290.25 L424.99 290.44 L425.97 290.63 L426.94 290.80 L427.92 290.97 L428.90 291.14 L429.88 291.30 L430.86 291.45 L431.85 291.61 L432.83 291.75 L433.81 291.90 L434.80 292.04 L435.78 292.18 L436.77 292.32 L437.76 292.46 L438.75 292.59 L439.74 292.72 L440.73 292.85 L441.72 292.98 L442.71 293.10 L443.70 293.22 L444.69 293.34 L445.68 293.46 L446.68 293.58 L447.67 293.69 L448.66 293.80 L449.66 293.91 L450.65 294.02 L451.65 294.13 L452.65 294.23 L453.64 294.33 L454.64 294.43 L455.64 294.53 L456.63 294.63 L457.63 294.72 L458.63 294.82 L459.63 294.91 L460.63 295.00 L461.63 295.09 L462.63 295.18 L463.63 295.26 L464.63 295.35 L465.63 295.43 L466.63 295.51 L467.63 295.59 L468.63 295.67 L469.63 295.75 L470.63 295.83 L471.63 295.90 L472.63 295.98 L473.63 296.05 L474.63 296.12 L475.63 296.19 L476.64 296.26 L477.64 296.33 L478.64 296.40 L479.64 296.47 L480.64 296.53 L481.64 296.60 L482.64 296.67 L483.64 296.73 L484.64 296.79 L485.64 296.86 L486.64 296.92 L487.64 296.98 L488.63 297.04 L489.63 297.10 L490.63 297.16 L491.63 297.22 L492.63 297.28 L493.62 297.34 L494.62 297.40 L495.62 297.45 L496.61 297.51 L497.61 297.57 L498.60 297.63 L499.60 297.68 L500.59 297.74 L501.58 297.80 L502.58 297.85 L503.57 297.91" stroke-width="2.7" stroke-linejoin="round"/>
<path d="M376.51 121.8 H409.91" stroke-width="3.6" stroke-linecap="round" stroke-dasharray="0 6.5"/>
<path d="M374.53 150 H410.38" stroke-width="2.7"/>
<path d="M375.66 177.7 H411.32" stroke-width="2.8" stroke-linecap="round" stroke-dasharray="4.9 4.82"/>
</g>
<g font-family="Liberation Serif" font-weight="bold" font-size="14.5" fill="#000" stroke="#000" stroke-width="0.45" text-rendering="geometricPrecision">
<text x="440" y="128">4a</text>
<text x="440" y="155.6">4b</text>
<text x="440" y="183.3">4c</text>
<text transform="translate(53.9 42.3) scale(1.06 0.957)" text-anchor="end">800</text>
<text transform="translate(53.9 108.4) scale(1.06 0.957)" text-anchor="end">600</text>
<text transform="translate(53.9 174.3) scale(1.06 0.957)" text-anchor="end">400</text>
<text transform="translate(53.9 240.4) scale(1.06 0.957)" text-anchor="end">200</text>
<text transform="translate(53.9 306.4) scale(1.06 0.957)" text-anchor="end">0</text>
<text transform="translate(67.0 322.2) scale(1.08 1)" text-anchor="middle">350</text>
<text transform="translate(160.4 322.2) scale(1.08 1)" text-anchor="middle">400</text>
<text transform="translate(253.9 322.2) scale(1.08 1)" text-anchor="middle">450</text>
<text transform="translate(347.4 322.2) scale(1.08 1)" text-anchor="middle">500</text>
<text transform="translate(440.9 322.2) scale(1.08 1)" text-anchor="middle">550</text>
<text transform="translate(534.4 322.2) scale(1.08 1)" text-anchor="middle">600</text>
<text transform="translate(300.8 341.8) scale(1.055 1)" text-anchor="middle">Wavelength (nm)</text>
<text transform="translate(12.7 158.5) rotate(-90) scale(1 1.045)" font-size="13.85" stroke-width="0.15" text-anchor="middle">Fluorescence Intensity (a. u. )</text>
</g>
</svg>
</body></html>
